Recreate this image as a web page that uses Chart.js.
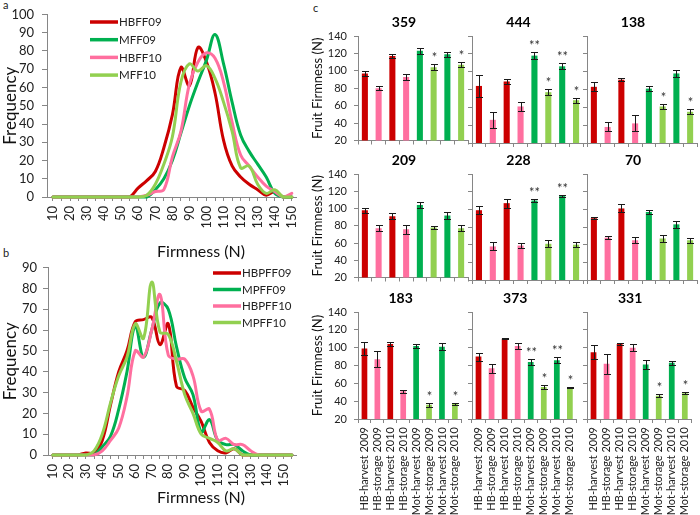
<!DOCTYPE html>
<html><head><meta charset="utf-8">
<title>Fruit firmness</title>
<script src="https://cdn.jsdelivr.net/npm/chart.js@4.4.1/dist/chart.umd.min.js"></script>
<style>
html,body{margin:0;padding:0;background:#fff}
#wrap{position:relative;width:700px;height:515px;overflow:hidden;font-family:Lato,sans-serif;background:#fff}
.box{position:absolute}
.box canvas{display:block}
.tag{position:absolute;font:11px Lato,sans-serif;color:#222}
</style></head><body>
<div id="wrap">
 <div class="tag" style="left:3px;top:-2px">a</div>
 <div class="tag" style="left:3px;top:246px">b</div>
 <div class="tag" style="left:313px;top:1px">c</div>
</div>
<script>
const FONT = 'Lato, "Open Sans", sans-serif';
const RED = '#CC0000', PINK = '#FF6F9F', GREEN = '#00B050', LGREEN = '#92D050';
const AXIS = '#868686';

// ---------- Panel a: frequency of firmness (N) ----------
const firmnessA = [10,15,20,25,30,35,40,45,50,55,60,65,70,75,80,85,90,95,100,105,110,115,120,125,130,135,140,145,150];
const HBFF09 = [0,0,0,0,0,0,0,0,0,0,5,9,14,27,45,71,61,82,74,57,31,17,11,7,4,1,3,0,0];
const MFF09  = [0,0,0,0,0,0,0,0,0,0,0,0,4,10,20,35,50,63,75,89,73,52,34,25,18,11,2,0,0];
const HBFF10 = [0,0,0,0,0,0,0,0,0,0,0,1,3,4,22,36,62,74,79,76,63,41,23,17,11,6,3,0,2];
const MFF10  = [0,0,0,0,0,0,0,0,0,0,0,1,7,18,33,63,73,69,72,65,52,36,16,17,7,2,4,0,0];
const labelsA = ['HBFF09','MFF09','HBFF10','MFF10'];
const freqTicksA = [0,10,20,30,40,50,60,70,80,90,100];

// ---------- Panel b ----------
const firmnessB = [10,15,20,25,30,35,40,45,50,55,60,65,70,75,80,85,90,95,100,105,110,115,120,125,130,135,140,145,150,155];
const HBPFF09 = [0,0,0,0,1,1,7,24,40,50,64,65,66,53,63,33,31,23,16,6,2,1,3,0,0,0,0,0,0,0];
const MPFF09  = [0,0,0,0,0,0,4,9,22,40,62,47,60,73,70,52,37,29,11,17,7,5,5,2,0,0,0,0,0,0];
const HBPFF10 = [0,0,0,0,0,0,2,7,13,28,50,47,60,77,48,46,46,38,21,22,7,8,5,5,2,0,0,0,0,0];
const MPFF10  = [0,0,0,0,0,2,10,25,38,47,63,56,83,59,58,45,29,20,10,8,6,2,3,0,0,0,0,0,0,0];
const labelsB = ['HBPFF09','MPFF09','HBPFF10','MPFF10'];
const freqTicksB = [0,10,20,30,40,50,60,70,80,90];

// ---------- Panel c: fruit firmness per line ----------
const groups = ['HB-harvest 2009','HB-storage 2009','HB-harvest 2010','HB-storage 2010',
                'Mot-harvest 2009','Mot-storage 2009','Mot-harvest 2010','Mot-storage 2010'];
const firmTicksC = [20,40,60,80,100,120,140];
const lineNames = ['359','444','138','209','228','70','183','373','331'];
const mean359 = [97,80,117,93,123,104,119,107];  const err359 = [3,2.5,2,3,3.5,3.5,3,3];     const sig359 = ['','','','','','*','','*'];
const mean444 = [84,46,89,61,118,77,106,68];     const err444 = [12,9,3,5,4,3.5,3.5,3];     const sig444 = ['','','','','**','*','**','*'];
const mean138 = [83,38,91,42,81,61,98,55];       const err138 = [5,5,2,9,3,3,3.5,3];       const sig138 = ['','','','','','*','','*'];
const mean209 = [98,77,91,76,104,78,92,77];      const err209 = [3,3.5,3.5,5,3.5,1.5,4,3.5]; const sig209 = ['','','','','','','',''];
const mean228 = [99,58,107,59,110,61,115,60];    const err228 = [4.5,4.5,5,2.5,2,4,1,2.5];   const sig228 = ['','','','','**','','**',''];
const mean70  = [90,68,101,65,97,67,83,65];      const err70  = [1.5,2,4.5,3.5,2,4,4,3];     const sig70  = ['','','','','','','',''];
const mean183 = [99,87,104,51,102,36,101,37];    const err183 = [7,9,2,2,2.5,2.5,4,1.5];     const sig183 = ['','','','','','*','','*'];
const mean373 = [90,77,110,102,84,56,86,55];     const err373 = [4.5,5,0.7,3,3,2,3,0.7];     const sig373 = ['','','','','**','*','**','*'];
const mean331 = [95,82,104,100,81,46,83,49];     const err331 = [8,11,1,4,5,1.5,2,1.5];      const sig331 = ['','','','','','*','','*'];

const wrap = document.getElementById('wrap');
function makeCanvas(left, top, w, h){
  const d = document.createElement('div');
  d.className = 'box';
  d.style.left = left+'px'; d.style.top = top+'px'; d.style.width = w+'px'; d.style.height = h+'px';
  const c = document.createElement('canvas');
  c.width = w; c.height = h; c.style.width = w+'px'; c.style.height = h+'px';
  d.appendChild(c); wrap.appendChild(d);
  return c;
}

function lineChart(cfg){
  const cv = makeCanvas(cfg.left, cfg.top, cfg.w, cfg.h);
  const colors = [RED, GREEN, PINK, LGREEN];
  const datasets = cfg.series.map((vals,i)=>({
    label: cfg.labels[i],
    data: cfg.xs.map((x,j)=>({x:x, y:vals[j]})),
    borderColor: colors[i], borderWidth: 3, pointRadius: 0, tension: 0.4,
    fill: false, clip: 4, order: cfg.series.length - i,
    borderJoinStyle: 'round', borderCapStyle: 'round'
  }));
  const deco = {
    id: 'deco',
    afterDraw(chart){
      const ctx = chart.ctx;
      ctx.save();
      chart.data.datasets.forEach((ds,i)=>{
        const y = cfg.legY + i*cfg.legDy;
        ctx.strokeStyle = ds.borderColor; ctx.lineWidth = 3.5; ctx.lineCap = 'butt';
        ctx.beginPath(); ctx.moveTo(cfg.legX, y); ctx.lineTo(cfg.legX + 28, y); ctx.stroke();
        ctx.fillStyle = '#222'; ctx.font = '11.5px ' + FONT; ctx.textAlign = 'left'; ctx.textBaseline = 'middle';
        ctx.fillText(ds.label, cfg.legX + 29, y + 0.5);
      });
      ctx.fillStyle = '#111'; ctx.font = '16px ' + FONT; ctx.textAlign = 'center'; ctx.textBaseline = 'middle';
      ctx.fillText('Firmness (N)', cfg.titleX, cfg.titleY);
      ctx.restore();
    }
  };
  new Chart(cv, {
    type: 'line',
    data: { datasets },
    options: {
      responsive: false, animation: false, events: [],
      layout: { padding: { top: cfg.padT, right: cfg.padR, left: 0, bottom: 0 } },
      plugins: { legend: { display: false }, tooltip: { enabled: false }, title: { display: false } },
      scales: {
        x: {
          type: 'linear', min: cfg.xMin, max: cfg.xMax,
          afterBuildTicks: s => { s.ticks = cfg.xs.map(v => ({ value: v })); },
          afterFit: s => { s.height = cfg.xAxisH; },
          ticks: { autoSkip: false, autoSkipPadding: 0, minRotation: 90, maxRotation: 90, padding: 5,
                   font: { size: 13, family: FONT, lineHeight: 1 }, color: '#222',
                   callback: v => (v % 10 === 0 && v <= 150) ? String(v) : '' },
          grid: { drawOnChartArea: false, drawTicks: true, tickLength: 4, color: AXIS },
          border: { color: AXIS }
        },
        y: {
          min: 0, max: cfg.yMax,
          afterBuildTicks: s => { s.ticks = cfg.yTicks.map(v => ({ value: v })); },
          afterFit: s => { s.width = cfg.yAxisW; },
          ticks: { autoSkip: false, autoSkipPadding: 0, padding: cfg.yPad,
                   font: { size: 13, family: FONT, lineHeight: 1 }, color: '#222' },
          grid: { drawOnChartArea: false, tickLength: 5, color: AXIS },
          border: { color: AXIS },
          title: { display: true, text: 'Frequency', font: { size: 17, family: FONT }, color: '#111', padding: 0 }
        }
      }
    },
    plugins: [deco]
  });
}

lineChart({ left:0, top:0, w:310, h:262, padT:7, padR:10, yAxisW:47, xAxisH:65, yPad:8,
  xs: firmnessA, series:[HBFF09, MFF09, HBFF10, MFF10], labels: labelsA, yTicks: freqTicksA,
  xMin:6.5, xMax:152.9, yMax:100, legX:90, legY:22, legDy:17.7, titleX:201, titleY:252 });

lineChart({ left:0, top:255, w:310, h:260, padT:10, padR:4, yAxisW:48, xAxisH:60, yPad:6,
  xs: firmnessB, series:[HBPFF09, MPFF09, HBPFF10, MPFF10], labels: labelsB, yTicks: freqTicksB,
  xMin:7.1, xMax:157.6, yMax:90, legX:213, legY:18, legDy:16.5, titleX:201, titleY:243 });

// ---------- bar panels ----------
const barColors = [RED, PINK, RED, PINK, GREEN, LGREEN, GREEN, LGREEN];
const panels = [
  {name:lineNames[0], mean:mean359, err:err359, sig:sig359},
  {name:lineNames[1], mean:mean444, err:err444, sig:sig444},
  {name:lineNames[2], mean:mean138, err:err138, sig:sig138},
  {name:lineNames[3], mean:mean209, err:err209, sig:sig209},
  {name:lineNames[4], mean:mean228, err:err228, sig:sig228},
  {name:lineNames[5], mean:mean70,  err:err70,  sig:sig70},
  {name:lineNames[6], mean:mean183, err:err183, sig:sig183},
  {name:lineNames[7], mean:mean373, err:err373, sig:sig373},
  {name:lineNames[8], mean:mean331, err:err331, sig:sig331}
];
const COLS = [ {left:310, width:160, axisW:48, padR:2},
               {left:440, width:145, axisW:32, padR:2},
               {left:555, width:145, axisW:32, padR:3} ];
const ROWS = [ {top:10,  padT:26, plotH:107, axisH:10},
               {top:150, padT:24, plotH:106, axisH:10},
               {top:288, padT:24, plotH:107, axisH:96} ];

function errPlugin(p){
  return {
    id: 'errbars',
    afterDatasetsDraw(chart){
      const ctx = chart.ctx, ys = chart.scales.y, ca = chart.chartArea;
      const meta = chart.getDatasetMeta(0);
      ctx.save();
      ctx.strokeStyle = '#1a1a1a'; ctx.lineWidth = 1;
      meta.data.forEach((bar, i) => {
        const m = p.mean[i], e = p.err[i];
        const yt = Math.round(ys.getPixelForValue(m + e)) + 0.5;
        const yb = Math.round(ys.getPixelForValue(m - e)) + 0.5;
        const x = Math.round(bar.x) + 0.5;
        ctx.beginPath();
        ctx.moveTo(x, yt); ctx.lineTo(x, yb);
        ctx.moveTo(x - 3.5, yt); ctx.lineTo(x + 3.5, yt);
        ctx.moveTo(x - 3.5, yb); ctx.lineTo(x + 3.5, yb);
        ctx.stroke();
        if (p.sig[i]) {
          ctx.fillStyle = '#333'; ctx.font = '13px ' + FONT;
          ctx.textAlign = 'center'; ctx.textBaseline = 'alphabetic';
          ctx.fillText(p.sig[i], x, yt - 3);
        }
      });
      ctx.fillStyle = '#000'; ctx.font = 'bold 14px ' + FONT;
      ctx.textAlign = 'center'; ctx.textBaseline = 'middle';
      ctx.fillText(p.name, (ca.left + ca.right) / 2 - 9, ca.top - 14);
      ctx.restore();
    }
  };
}

function barChart(p, row, col){
  const C = COLS[col], R = ROWS[row];
  const cv = makeCanvas(C.left, R.top, C.width, R.padT + R.plotH + R.axisH);
  new Chart(cv, {
    type: 'bar',
    data: { labels: groups, datasets: [{ data: p.mean, backgroundColor: barColors, borderWidth: 0,
             barPercentage: 0.44, categoryPercentage: 1 }] },
    options: {
      responsive: false, animation: false, events: [],
      layout: { padding: { top: R.padT, right: C.padR, left: 0, bottom: 0 } },
      plugins: { legend: { display: false }, tooltip: { enabled: false } },
      scales: {
        x: {
          afterFit: s => { s.height = R.axisH; },
          grid: { offset: true, drawOnChartArea: false, tickLength: 4, color: AXIS },
          border: { color: AXIS },
          ticks: { display: row === 2, autoSkip: false, autoSkipPadding: 0, minRotation: 90, maxRotation: 90, padding: 4,
                   font: { size: 11, family: FONT, lineHeight: 1 }, color: '#222' }
        },
        y: {
          min: 20, max: 140,
          afterBuildTicks: s => { s.ticks = firmTicksC.map(v => ({ value: v })); },
          afterFit: s => { s.width = C.axisW; },
          ticks: { display: col === 0, autoSkip: false, autoSkipPadding: 0, padding: 7,
                   font: { size: 11, family: FONT, lineHeight: 1 }, color: '#222' },
          grid: { drawOnChartArea: false, tickLength: 4, color: AXIS },
          border: { color: AXIS },
          title: { display: col === 0, text: 'Fruit Firmness (N)', font: { size: 13, family: FONT }, color: '#111', padding: 0 }
        }
      }
    },
    plugins: [errPlugin(p)]
  });
}

panels.forEach((p, i) => barChart(p, Math.floor(i / 3), i % 3));
</script>
</body></html>
